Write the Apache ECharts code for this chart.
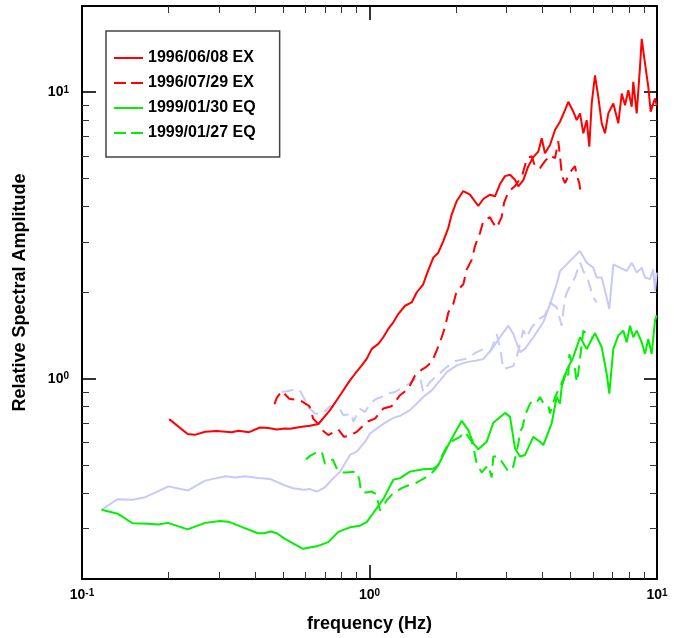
<!DOCTYPE html>
<html>
<head>
<meta charset="utf-8">
<script src="https://cdn.jsdelivr.net/npm/echarts@6/dist/echarts.min.js"></script>
<style>
  html, body { margin: 0; padding: 0; background: #fff; }
  #chart { width: 674px; height: 638px; }
</style>
</head>
<body>
<div id="chart"></div>
<script>
const FONT = '"Liberation Sans", Arial, Helvetica, sans-serif';

// Tick positions (log axes)
const xMajorTicks = [0.1, 1, 10];
const xMinorTicks = [0.2, 0.3, 0.4, 0.5, 0.6, 0.7, 0.8, 0.9, 2, 3, 4, 5, 6, 7, 8, 9];
const yMajorTicks = [1, 10];
const yMinorTicks = [0.3, 0.4, 0.5, 0.6, 0.7, 0.8, 0.9, 2, 3, 4, 5, 6, 7, 8, 9];

const legendNames = ['1996/06/08 EX', '1996/07/29 EX', '1999/01/30 EQ', '1999/01/27 EQ'];

// 1996/06/08 EX (solid red)
const ex0608Freq = [0.201,0.233,0.247,0.268,0.294,0.332,0.350,0.381,0.416,0.445,0.476,0.508,0.529,0.581,0.621,0.664,0.729,0.790,0.855,0.891,0.940,0.978,1.018,1.073,1.117,1.162,1.21,1.259,1.329,1.402,1.459,1.538,1.581,1.667,1.735,1.806,1.88,1.931,2.011,2.12,2.237,2.39,2.488,2.625,2.732,2.844,2.961,3.082,3.207,3.293,3.428,3.567,3.713,3.865,3.972,4.077,4.245,4.418,4.598,4.786,4.914,5.116,5.257,5.398,5.543,5.695,5.814,5.928,6.085,6.249,6.423,6.594,6.77,7.047,7.335,7.54,7.742,7.947,8.166,8.271,8.50,8.728,8.847,9.085,9.327,9.508,9.707,9.84,9.98];
const ex0608Amp = [0.723,0.641,0.637,0.653,0.657,0.651,0.658,0.651,0.676,0.673,0.665,0.671,0.669,0.680,0.685,0.695,0.777,0.876,0.987,1.041,1.113,1.173,1.271,1.323,1.396,1.492,1.574,1.682,1.798,1.846,2.0,2.137,2.315,2.647,2.754,3.024,3.363,3.741,4.173,4.521,4.39,4.009,4.24,4.39,4.334,4.781,5.097,5.151,4.949,4.694,4.937,5.521,5.933,6.209,6.905,6.125,6.546,7.38,7.89,8.66,9.26,8.55,7.99,8.44,7.19,7.99,6.46,9.14,11.46,9.64,7.79,7.19,8.44,9.14,7.79,9.90,9.01,10.16,8.90,10.87,8.44,12.25,15.37,12.58,10.44,8.55,9.14,9.51,9.01];

// 1996/07/29 EX (dashed red)
const ex0729Freq = [0.467,0.476,0.495,0.526,0.573,0.618,0.637,0.664,0.689,0.719,0.779,0.815,0.851,0.903,0.942,0.978,1.045,1.117,1.194,1.277,1.365,1.44,1.519,1.572,1.646,1.713,1.783,1.83,1.88,1.956,2.011,2.12,2.178,2.268,2.328,2.423,2.488,2.625,2.689,2.77,2.883,2.937,3.04,3.207,3.392,3.53,3.666,3.765,3.917,4.077,4.245,4.418,4.536,4.598,4.673,4.786,4.914,5.051,5.186,5.27,5.367,5.428];
const ex0729Amp = [0.815,0.857,0.906,0.852,0.841,0.802,0.726,0.695,0.658,0.636,0.665,0.627,0.632,0.653,0.680,0.707,0.726,0.787,0.802,0.876,0.923,1.027,1.076,1.098,1.143,1.255,1.396,1.512,1.704,1.822,2.027,2.137,2.404,2.604,2.905,3.232,3.548,3.664,3.50,3.363,3.672,4.107,4.485,4.705,5.097,5.885,5.98,5.508,5.434,5.746,6.027,5.885,6.743,5.98,5.097,4.819,5.097,5.348,5.521,5.097,4.819,4.45];

// 1999/01/30 EQ (solid green)
const eq0130Freq = [0.117,0.133,0.150,0.170,0.184,0.199,0.233,0.268,0.302,0.323,0.359,0.409,0.430,0.453,0.476,0.508,0.587,0.655,0.719,0.779,0.855,0.927,0.978,1.031,1.117,1.21,1.277,1.383,1.538,1.667,1.735,1.905,2.093,2.207,2.296,2.39,2.557,2.695,2.961,3.082,3.207,3.339,3.475,3.713,3.917,4.022,4.302,4.478,4.598,4.661,4.852,5.116,5.398,5.695,6.085,6.423,6.683,6.825,7.047,7.335,7.634,7.844,8.055,8.271,8.50,8.847,9.085,9.327,9.585,9.84,9.98];
const eq0130Amp = [0.349,0.338,0.313,0.312,0.310,0.314,0.298,0.314,0.319,0.317,0.304,0.289,0.289,0.293,0.289,0.276,0.255,0.260,0.269,0.292,0.303,0.307,0.316,0.340,0.380,0.444,0.450,0.474,0.483,0.485,0.500,0.603,0.713,0.662,0.595,0.567,0.603,0.702,0.760,0.736,0.571,0.535,0.542,0.627,0.603,0.587,0.698,0.864,0.819,0.936,1.069,1.19,1.396,1.271,1.441,1.288,1.041,0.887,1.271,1.415,1.472,1.341,1.532,1.396,1.472,1.341,1.221,1.377,1.221,1.595,1.664];

// 1999/01/27 EQ (dashed green)
const eq0127Freq = [0.601,0.621,0.652,0.682,0.700,0.729,0.745,0.769,0.796,0.829,0.903,0.922,0.934,0.972,1.018,1.059,1.066,1.088,1.148,1.21,1.294,1.361,1.44,1.538,1.623,1.69,1.735,1.783,1.856,1.952,2.064,2.148,2.268,2.296,2.36,2.457,2.522,2.59,2.661,2.695,2.805,2.883,2.961,3.04,3.164,3.293,3.339,3.411,3.475,3.617,3.713,3.825,3.917,4.003,4.187,4.245,4.418,4.598,4.852,4.914,4.955,5.01,5.186,5.257,5.312,5.543,5.708,5.928];
const eq0127Amp = [0.523,0.538,0.552,0.557,0.505,0.514,0.523,0.487,0.471,0.471,0.474,0.444,0.404,0.401,0.404,0.395,0.379,0.347,0.376,0.399,0.415,0.424,0.431,0.447,0.463,0.481,0.500,0.535,0.579,0.608,0.627,0.653,0.603,0.579,0.506,0.471,0.486,0.498,0.452,0.535,0.535,0.514,0.494,0.474,0.494,0.593,0.653,0.680,0.746,0.819,0.841,0.830,0.864,0.830,0.809,0.756,0.864,0.936,1.069,1.027,1.218,1.171,1.081,0.974,1.030,1.472,1.429,1.396];

// Pale reference pair (solid and dashed), not listed in the legend
const refSolidFreq = [0.117,0.133,0.150,0.166,0.200,0.233,0.268,0.316,0.341,0.369,0.410,0.451,0.508,0.543,0.589,0.621,0.655,0.700,0.739,0.790,0.855,0.903,0.965,1.004,1.059,1.132,1.21,1.277,1.383,1.459,1.538,1.646,1.759,1.856,2.011,2.178,2.36,2.488,2.695,2.844,3.04,3.164,3.339,3.475,3.713,4.022,4.245,4.478,4.598,4.852,5.116,5.398,5.695,6.003,6.17,6.423,6.683,6.825,7.047,7.435,7.844,8.166,8.50,8.847,9.085,9.456,9.707,9.84,9.98];
const refSolidAmp = [0.349,0.380,0.378,0.386,0.421,0.407,0.441,0.457,0.452,0.457,0.450,0.447,0.424,0.415,0.410,0.412,0.404,0.418,0.444,0.474,0.542,0.557,0.603,0.644,0.670,0.702,0.730,0.742,0.777,0.819,0.864,0.911,0.987,1.055,1.113,1.143,1.158,1.171,1.288,1.396,1.532,1.433,1.238,1.271,1.396,1.574,1.822,2.137,2.378,2.507,2.647,2.792,2.542,2.442,2.255,2.255,1.921,1.750,2.507,2.442,2.378,2.542,2.347,2.442,2.255,2.225,2.41,2.027,2.347];
const refDashFreq = [0.495,0.522,0.558,0.570,0.589,0.613,0.646,0.673,0.710,0.729,0.759,0.790,0.811,0.867,0.878,0.927,0.965,1.004,1.053,1.103,1.148,1.227,1.277,1.35,1.42,1.499,1.538,1.623,1.759,1.856,1.983,2.148,2.36,2.488,2.625,2.695,2.77,2.844,2.92,3.164,3.285,3.428,3.522,3.666,3.865,4.077,4.245,4.478,4.661,4.786,4.914,5.186,5.398,5.543,5.768,6.003,6.17];
const refDashAmp = [0.899,0.906,0.923,0.916,0.864,0.797,0.756,0.748,0.780,0.802,0.797,0.780,0.746,0.756,0.707,0.785,0.766,0.819,0.850,0.864,0.887,0.899,0.921,0.951,0.987,1.014,0.899,0.974,1.047,1.098,1.152,1.171,1.238,1.268,1.238,1.32,1.429,1.288,1.081,1.107,1.238,1.476,1.396,1.512,1.612,1.664,1.846,1.774,1.532,1.921,2.049,2.255,2.542,2.378,2.197,1.921,1.846];

const RED = '#ff0000';
const GREEN = '#00f000';
const PALE = '#c8c8fa';
const DASH = [12, 7];

function pairs(freq, amp) {
  return freq.map((f, i) => [f, amp[i]]);
}

const labelRich = {
  b: { fontFamily: FONT, fontWeight: 'bold', fontSize: 14, color: '#000' },
  s: { fontFamily: FONT, fontWeight: 'bold', fontSize: 10, color: '#000', verticalAlign: 'top' }
};
function powerLabel(v) {
  return '{b|10}{s|' + Math.round(Math.log10(v)) + '}';
}

function logAxis(dim, position, ticks, tickLen, opts) {
  const isX = dim === 'x';
  return Object.assign({
    type: 'log',
    logBase: 10,
    min: isX ? 0.1 : 0.2,
    max: isX ? 10 : 20,
    position: position,
    axisLine: { show: false, onZero: false, lineStyle: { color: '#000', width: 2 } },
    axisTick: {
      show: true, inside: true, length: tickLen, customValues: ticks,
      lineStyle: { color: tickLen > 10 ? '#000' : '#333', width: tickLen > 10 ? 1.6 : 1 }
    },
    axisLabel: { show: false },
    splitLine: { show: false },
    minorTick: { show: false },
    minorSplitLine: { show: false }
  }, opts || {});
}

const xAxes = [
  logAxis('x', 'bottom', xMajorTicks, 14, {
    axisLine: { show: true, onZero: false, lineStyle: { color: '#000', width: 2 } },
    axisLabel: {
      show: true, customValues: xMajorTicks, margin: 9,
      showMinLabel: true, showMaxLabel: true,
      formatter: powerLabel, rich: labelRich
    },
    name: 'frequency (Hz)',
    nameLocation: 'middle',
    nameGap: 36,
    nameTextStyle: { fontFamily: FONT, fontWeight: 'bold', fontSize: 18, color: '#000' }
  }),
  logAxis('x', 'bottom', xMinorTicks, 7),
  logAxis('x', 'top', xMajorTicks, 14, {
    axisLine: { show: true, onZero: false, lineStyle: { color: '#000', width: 2 } }
  }),
  logAxis('x', 'top', xMinorTicks, 7)
];

const yAxes = [
  logAxis('y', 'left', yMajorTicks, 14, {
    axisLine: { show: true, onZero: false, lineStyle: { color: '#000', width: 2 } },
    axisLabel: {
      show: true, customValues: yMajorTicks, margin: 13,
      showMinLabel: true, showMaxLabel: true,
      formatter: powerLabel, rich: labelRich
    },
    name: 'Relative Spectral Amplitude',
    nameLocation: 'middle',
    nameGap: 53,
    nameTextStyle: { fontFamily: FONT, fontWeight: 'bold', fontSize: 18, color: '#000' }
  }),
  logAxis('y', 'left', yMinorTicks, 7),
  logAxis('y', 'right', yMajorTicks, 13, {
    axisLine: { show: true, onZero: false, lineStyle: { color: '#000', width: 2 } }
  }),
  logAxis('y', 'right', yMinorTicks, 7)
];

function lineSeries(name, freq, amp, color, dashed, width) {
  return {
    name: name,
    type: 'line',
    xAxisIndex: 0,
    yAxisIndex: 0,
    data: pairs(freq, amp),
    showSymbol: false,
    symbol: 'none',
    smooth: false,
    silent: true,
    clip: true,
    lineStyle: { color: color, width: width || 2, type: dashed ? DASH : 'solid' },
    itemStyle: { color: color },
    emphasis: { disabled: true }
  };
}

// Legend rows: plain line samples, dashed where the series is dashed
const legendData = legendNames.map((n, i) => ({
  name: n,
  itemStyle: { opacity: 0 },
  lineStyle: { color: i < 2 ? RED : GREEN, width: 2, type: i % 2 ? [12, 5] : 'solid' }
}));

const option = {
  animation: false,
  backgroundColor: '#fff',
  grid: { left: 82, right: 17, top: 6, bottom: 56, containLabel: false },
  xAxis: xAxes,
  yAxis: yAxes,
  legend: {
    data: legendData,
    orient: 'vertical',
    left: 106,
    top: 31,
    padding: [19, 24, 16, 7],
    itemWidth: 29,
    itemHeight: 14,
    itemGap: 9,
    selectedMode: false,
    itemStyle: { opacity: 0 },
    borderColor: '#444',
    borderWidth: 1.5,
    borderRadius: 0,
    backgroundColor: '#fff',
    textStyle: { fontFamily: FONT, fontWeight: 'bold', fontSize: 16, color: '#000' }
  },
  series: [
    lineSeries('reference (solid)', refSolidFreq, refSolidAmp, PALE, false, 2),
    lineSeries('reference (dashed)', refDashFreq, refDashAmp, PALE, true, 2),
    lineSeries(legendNames[2], eq0130Freq, eq0130Amp, GREEN, false),
    lineSeries(legendNames[3], eq0127Freq, eq0127Amp, GREEN, true),
    lineSeries(legendNames[0], ex0608Freq, ex0608Amp, RED, false),
    lineSeries(legendNames[1], ex0729Freq, ex0729Amp, RED, true)
  ]
};

const chart = echarts.init(document.getElementById('chart'), null, { renderer: 'canvas' });
chart.setOption(option);
</script>
</body>
</html>
